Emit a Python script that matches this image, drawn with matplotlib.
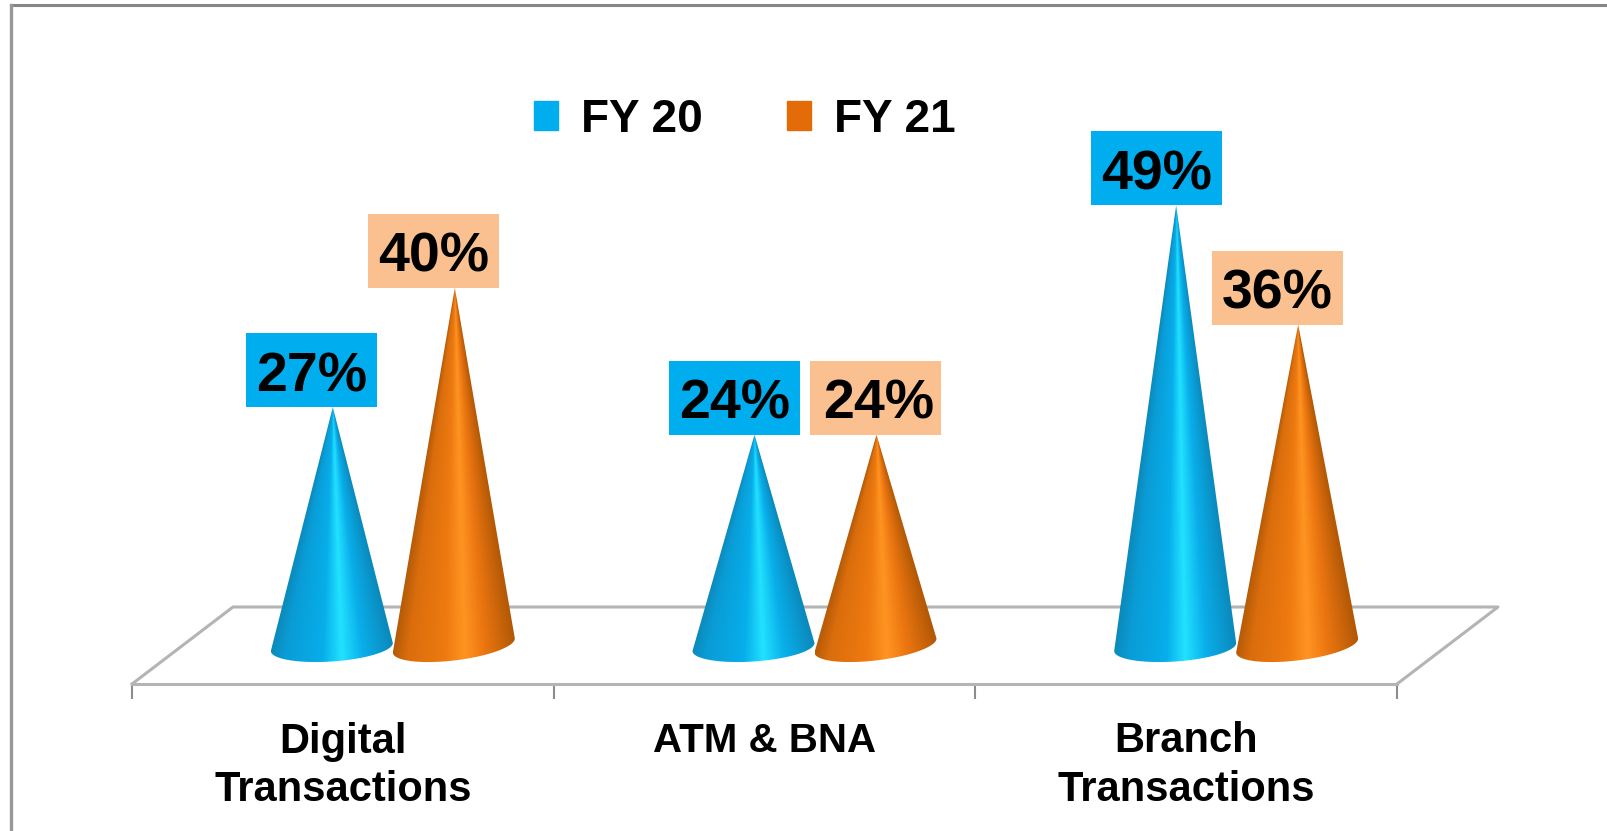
import matplotlib
matplotlib.use('Agg')
import matplotlib.pyplot as plt
import numpy as np
from matplotlib.colors import LinearSegmentedColormap
from matplotlib.lines import Line2D
from matplotlib.patches import Patch, Polygon, Rectangle

plt.rcParams['font.family'] = ['Liberation Sans', 'DejaVu Sans']

categories = ['Digital\nTransactions', 'ATM & BNA', 'Branch\nTransactions']
fy20 = [27, 24, 49]
fy21 = [40, 24, 36]
series_names = ['FY 20', 'FY 21']

W, H = 1607, 831
BLUE = '#00aeef'
ORANGE = '#e36c09'
BLUE_BOX = '#00aeef'
ORANGE_BOX = '#fac090'
FLOOR = '#b4b4b4'

blue_cmap = LinearSegmentedColormap.from_list('b', [(0, '#0c8abb'), (0.12, '#0a9cd6'), (0.42, '#07aeea'),
                                                    (0.57, '#22e2ff'), (0.74, '#09aeea'), (1, '#0b88ba')])
orange_cmap = LinearSegmentedColormap.from_list('o', [(0, '#b55b08'), (0.12, '#da6d0c'), (0.42, '#ee7a10'),
                                                      (0.58, '#ff9422'), (0.74, '#ec7610'), (1, '#b25806')])

fig = plt.figure(figsize=(W / 100, H / 100), dpi=100)
# axes spans the front edge of the floor, value zero sits a bit above it
ax = fig.add_axes([132 / W, 1 - 684 / H, (1397 - 132) / W, (684 - 20) / H])
ax.set_xlim(-0.5, 2.5)
ax.set_ylim(-29 / 9.18, 635 / 9.18)
ax.patch.set_visible(False)

px_x = 3.0 / 1265   # one pixel in x units
px_y = 1 / 9.18     # one pixel in y units


def draw_cone(x, value, cmap, centre_px, minor_px, tilt_px):
    half = 61 * px_x
    tip_x = x + 1 * px_x
    base_y = centre_px * px_y
    t = np.linspace(np.pi, 2 * np.pi, 60)
    edge_y = base_y + minor_px * px_y * np.sin(t) + tilt_px * px_y * np.cos(t)
    pts = [(tip_x, value)] + list(zip(x + half * np.cos(t), edge_y))
    clip = Polygon(pts, closed=True, transform=ax.transData, fc='none', ec='none')
    ax.add_patch(clip)
    # shading runs around the cone, so it narrows towards the tip
    bottom = base_y - 20 * px_y
    xs = np.linspace(x - half, x + half, 200)
    ys = np.linspace(value, bottom, 300)
    gx, gy = np.meshgrid(xs, ys)
    frac = np.clip((value - gy) / (value - base_y), 0.02, None)
    grad = np.clip(0.5 + (gx - tip_x) / (2 * half * frac), 0, 1)
    im = ax.imshow(grad, cmap=cmap, extent=(x - half, x + half, bottom, value), aspect='auto',
                   zorder=3, interpolation='bilinear')
    im.set_clip_path(clip)


def draw_label(x, value, text, color, text_dx=0):
    w = 131 * px_x
    h = 74 * px_y
    ax.add_patch(Rectangle((x - w / 2, value), w, h, fc=color, ec='none', zorder=4, clip_on=False))
    ax.text(x + text_dx * px_x, value + h / 2 - 1 * px_y, text, ha='center', va='center_baseline', fontsize=40,
            fontweight='bold', color='black', zorder=5)


# floor, back edge and the two sides
depth_x = 101 * px_x
depth_y = 77 * px_y
floor_front = -29 * px_y
ax.plot([-0.5, -0.5 + depth_x, 2.5 + depth_x, 2.5],
        [floor_front, floor_front + depth_y, floor_front + depth_y, floor_front],
        color=FLOOR, lw=2.2, clip_on=False, zorder=1)

offset = 61 * px_x
shift = 50 * px_x
label_dx = [[-20, -20], [-19, 0], [-19, -20]]
for i in range(len(categories)):
    x1 = i + shift - offset
    x2 = i + shift + offset
    draw_cone(x2, fy21[i], orange_cmap, 9.5, 15, 7)
    draw_cone(x1, fy20[i], blue_cmap, 8, 14.5, 4)
    draw_label(x1 + label_dx[i][0] * px_x, fy20[i], '%d%%' % fy20[i], BLUE_BOX)
    draw_label(x2 + label_dx[i][1] * px_x, fy21[i], '%d%%' % fy21[i], ORANGE_BOX, text_dx=3 if i == 1 else 0)

ax.set_xlim(-0.5, 2.5)
ax.set_ylim(-29 / 9.18, 635 / 9.18)

for s in ['top', 'left', 'right']:
    ax.spines[s].set_visible(False)
ax.spines['bottom'].set_color(FLOOR)
ax.spines['bottom'].set_linewidth(2.2)
ax.set_yticks([])
ax.set_xticks([-0.5, 0.5, 1.5, 2.5])
ax.set_xticklabels([])
ax.tick_params(axis='x', which='major', length=11, width=1.5, color='#8c8c8c')
ax.set_xticks([0, 1, 2], minor=True)
ax.set_xticklabels(categories, minor=True, fontsize=30, fontweight='bold', linespacing=1.26)
ax.get_xticklabels(minor=True)[1].set_fontsize(29)
ax.tick_params(axis='x', which='minor', length=0, pad=27)

handles = [Patch(color=BLUE, label=series_names[0]), Patch(color=ORANGE, label=series_names[1])]
fig.legend(handles=handles, loc='center', bbox_to_anchor=(745 / W, 1 - 119.5 / H), ncol=2, frameon=False,
           prop={'size': 33, 'weight': 'bold'}, handlelength=0.52, handleheight=0.6,
           handletextpad=0.5, columnspacing=1.85)

# slide frame, only the top and left edges are in the picture
fig.add_artist(Line2D([1, 10.5 / W], [1 - 4.5 / H, 1 - 4.5 / H], transform=fig.transFigure, color='#868686', lw=2.2))
fig.add_artist(Line2D([10.5 / W, 10.5 / W], [1 - 4.5 / H, 0], transform=fig.transFigure, color='#989898', lw=2.4))

fig.savefig('out.png', dpi=100)
